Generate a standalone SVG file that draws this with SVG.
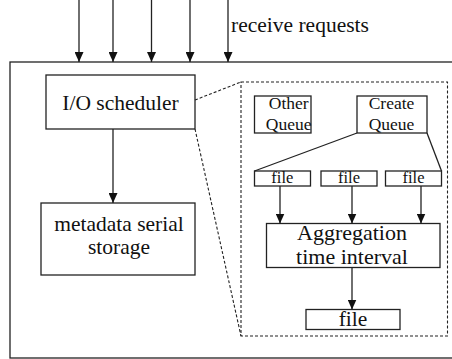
<svg xmlns="http://www.w3.org/2000/svg" width="452" height="359" viewBox="0 0 452 359">
<defs>
<style>
.box{fill:#fff;stroke:#222;stroke-width:1.3}
.ln{fill:none;stroke:#222;stroke-width:1.3}
.dash{fill:none;stroke:#222;stroke-width:1.1;stroke-dasharray:3,2}
text{font-family:"Liberation Serif","Times New Roman",serif;fill:#111;text-anchor:middle}
.t21{font-size:21.5px}
.t17{font-size:17.5px}
.t16{font-size:16.5px}
</style>
<marker id="ah" markerUnits="userSpaceOnUse" markerWidth="10" markerHeight="9" refX="10" refY="4.5" orient="auto">
<path d="M0,0 L10,4.5 L0,9 z" fill="#111"/>
</marker>
</defs>
<rect width="452" height="359" fill="#fff"/>
<g id="system">
<rect class="box" x="10" y="62" width="460" height="296"/>
</g>
<g id="receive-label">
<text class="t21" x="231" y="32" style="text-anchor:start">receive requests</text>
</g>
<g id="io-scheduler">
<rect class="box" x="46" y="75" width="149" height="54"/>
<text class="t21" x="120.5" y="110">I/O scheduler</text>
</g>
<g id="metadata-storage">
<rect class="box" x="41" y="203" width="154" height="72"/>
<text class="t21" x="119" y="231">metadata serial</text>
<text class="t21" x="119" y="253.5">storage</text>
</g>
<g id="detail">
<rect class="dash" x="241" y="82" width="206.5" height="254"/>
</g>
<g id="other-queue">
<rect class="box" x="254.5" y="96" width="56.5" height="37"/>
<text class="t17" x="288.7" y="108.5">Other</text>
<text class="t17" x="288.7" y="129.5">Queue</text>
</g>
<g id="create-queue">
<rect class="box" x="357" y="96" width="70" height="37"/>
<text class="t17" x="391.5" y="108.5">Create</text>
<text class="t17" x="391.5" y="129.5">Queue</text>
</g>
<g id="file-1">
<rect class="box" x="254.5" y="171" width="56" height="15"/>
<text class="t16" x="282.3" y="183.3">file</text>
</g>
<g id="file-2">
<rect class="box" x="321" y="171" width="56" height="15"/>
<text class="t16" x="349" y="183.3">file</text>
</g>
<g id="file-3">
<rect class="box" x="385.5" y="171" width="56" height="15"/>
<text class="t16" x="413.5" y="183.3">file</text>
</g>
<g id="aggregation">
<rect class="box" x="266.5" y="223.5" width="173.5" height="44"/>
<text class="t21" x="352" y="240" style="font-size:22px">Aggregation</text>
<text class="t21" x="352" y="264" style="font-size:22px">time interval</text>
</g>
<g id="file-out">
<rect class="box" x="306" y="309.5" width="94" height="20"/>
<text class="t21" x="353" y="325.5">file</text>
</g>
<g id="connectors">
<line class="ln" x1="79" y1="0" x2="79" y2="62" marker-end="url(#ah)"/>
<line class="ln" x1="113" y1="0" x2="113" y2="62" marker-end="url(#ah)"/>
<line class="ln" x1="151.5" y1="0" x2="151.5" y2="62" marker-end="url(#ah)"/>
<line class="ln" x1="190" y1="0" x2="190" y2="62" marker-end="url(#ah)"/>
<line class="ln" x1="228" y1="0" x2="228" y2="62" marker-end="url(#ah)"/>
<line class="ln" x1="113" y1="129" x2="113" y2="203" marker-end="url(#ah)"/>
<line class="dash" x1="195" y1="100" x2="241" y2="82"/>
<line class="dash" x1="195" y1="129" x2="241" y2="336"/>
<line class="ln" x1="357" y1="133" x2="254.5" y2="171"/>
<line class="ln" x1="427" y1="133" x2="441.5" y2="171"/>
<line class="ln" x1="280" y1="186" x2="280" y2="223.5" marker-end="url(#ah)"/>
<line class="ln" x1="352" y1="186" x2="352" y2="223.5" marker-end="url(#ah)"/>
<line class="ln" x1="421" y1="186" x2="421" y2="223.5" marker-end="url(#ah)"/>
<line class="ln" x1="352" y1="267.5" x2="352" y2="309.5" marker-end="url(#ah)"/>
</g>
</svg>
